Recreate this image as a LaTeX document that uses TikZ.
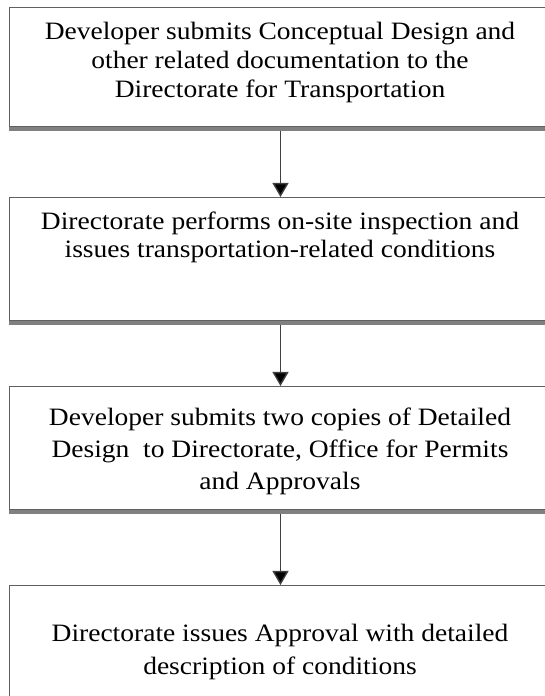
\documentclass[tikz,border=0pt]{standalone}
\usepackage{fontspec}
\setmainfont[FakeStretch=1.1]{Liberation Serif}
\usetikzlibrary{arrows.meta}
\begin{document}
\begin{tikzpicture}[x=1pt,y=1pt,
  flowbox/.style={draw=gray!75!black, line width=1pt, fill=white, minimum width=542pt, inner sep=0pt, anchor=north west},
  boxshadow/.style={draw=gray, line width=4pt},
  flowtext/.style={align=center, inner sep=0pt, text=black},
  flowarrow/.style={draw=black!75, line width=1.4pt, -{Triangle[width=16pt,length=14pt,fill=black]}}
]
\useasboundingbox (0,0) rectangle (545,696);
\node[flowbox, minimum height=119pt] (b1) at (9,689) {};
\node[flowbox, minimum height=123pt] (b2) at (9,499) {};
\node[flowbox, minimum height=123pt] (b3) at (9,310) {};
\node[flowbox, minimum height=130pt] (b4) at (9,111) {};
\draw[boxshadow] ([yshift=-2pt]b1.south west) -- ([yshift=-2pt]b1.south east);
\draw[boxshadow] ([yshift=-2pt]b2.south west) -- ([yshift=-2pt]b2.south east);
\draw[boxshadow] ([yshift=-2pt]b3.south west) -- ([yshift=-2pt]b3.south east);
\node[flowtext, font=\fontsize{25}{29}\selectfont] (t1) at (280,633.5)
  {Developer submits Conceptual Design and\\other related documentation to the\\Directorate for Transportation};
\node[flowtext, font=\fontsize{25}{28}\selectfont] (t2) at (280,459)
  {Directorate performs on-site inspection and\\issues transportation-related conditions};
\node[flowtext, font=\fontsize{25}{32}\selectfont] (t3) at (280,245)
  {Developer submits two copies of Detailed\\Design\ \ to Directorate, Office for Permits\\and Approvals};
\node[flowtext, font=\fontsize{25}{33}\selectfont] (t4) at (280,44)
  {Directorate issues Approval with detailed\\description of conditions};
\draw[flowarrow] ([yshift=-4pt]b1.south) -- (b2.north);
\draw[flowarrow] ([yshift=-4pt]b2.south) -- (b3.north);
\draw[flowarrow] ([yshift=-4pt]b3.south) -- (b4.north);
\end{tikzpicture}
\end{document}
